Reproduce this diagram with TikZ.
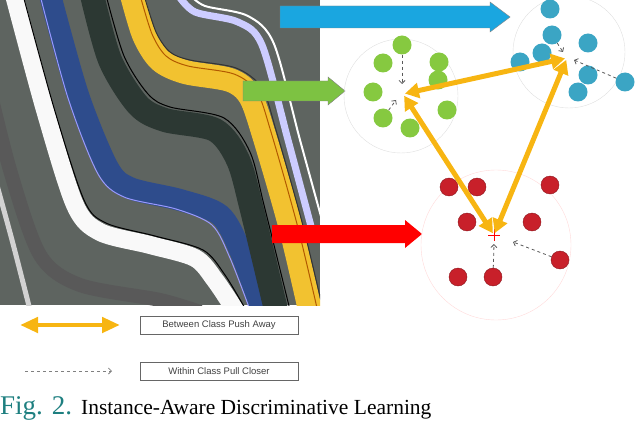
\documentclass[tikz,border=0pt]{standalone}
\usepackage{fontspec}
\setmainfont{Liberation Serif}
\setsansfont{Liberation Sans}
\usetikzlibrary{arrows.meta}
\definecolor{seis}{HTML}{5E6460}
\definecolor{ylw}{HTML}{F2C230}
\definecolor{gold}{HTML}{F7B512}
\definecolor{bluestripe}{HTML}{2E4C8C}
\definecolor{darkstripe}{HTML}{2C3833}
\definecolor{skyarrow}{HTML}{1AA6E0}
\definecolor{grnarrow}{HTML}{7DC242}
\definecolor{grndot}{HTML}{86C940}
\definecolor{bluedot}{HTML}{3BA5C4}
\definecolor{reddot}{HTML}{C8202A}
\definecolor{teal}{HTML}{1E7F80}
\tikzset{
 gdot/.style={circle,fill=grndot,minimum size=19pt,inner sep=0pt},
 bdot/.style={circle,fill=bluedot,minimum size=19pt,inner sep=0pt},
 rdot/.style={circle,fill=reddot,draw=reddot!70!black,minimum size=18pt,inner sep=0pt},
 push/.style={line width=5pt,gold,{Triangle[width=15pt,length=14pt]}-{Triangle[width=15pt,length=14pt]},shorten <=2pt,shorten >=2pt},
 pull/.style={dashed,gray!70!black,line width=0.8pt,-{Straight Barb[length=3pt]}},
 legbox/.style={draw=gray!80!black,line width=1pt,minimum width=158pt,minimum height=18pt,font=\sffamily\fontsize{9.5}{10}\selectfont,text=gray!50!black},
}
\begin{document}
\begin{tikzpicture}[x=1pt,y=-1pt]
\useasboundingbox (0,0) rectangle (636,422);
% seismic image
\begin{scope}
\clip (0,0) rectangle (320,305);
\fill[seis] (0,0) rectangle (320,305);
\draw[line width=14pt,black!65] plot[smooth] coordinates {(-15,70) (10,170) (40,255) (80,285) (160,300) (200,312)};
\draw[line width=5pt,gray!35] plot[smooth] coordinates {(-10,160) (12,240) (30,310)};
\draw[line width=18pt,white!95!gray] plot[smooth] coordinates {(14,-5) (45,110) (75,205) (100,232) (150,245) (195,258) (215,280) (235,310)};
\draw[line width=1pt,black] plot[smooth] coordinates {(23,-5) (54,108) (84,200) (106,223) (155,236) (203,250) (225,275) (246,310)};
\draw[line width=22pt,bluestripe] plot[smooth] coordinates {(50,-5) (78,95) (108,168) (130,188) (180,200) (220,215) (240,250) (262,310)};
\draw[line width=1pt,blue!40!white] plot[smooth] coordinates {(40,-5) (68,98) (98,174) (124,197) (176,209) (212,225) (230,258) (250,310)};
\draw[line width=24pt,darkstripe] plot[smooth] coordinates {(92,-5) (110,60) (138,105) (165,120) (215,130) (238,160) (252,210) (276,310)};
\draw[line width=1pt,black] plot[smooth] coordinates {(106,-5) (124,56) (148,94) (170,107) (224,118) (250,152) (264,205) (290,310)};
\draw[line width=24pt,ylw] plot[smooth] coordinates {(132,-5) (144,35) (160,60) (185,72) (230,80) (250,96) (264,135) (290,225) (310,310)};
\draw[line width=1pt,black!80] plot[smooth] coordinates {(144,-5) (156,32) (170,52) (190,60) (236,68) (262,88) (276,130) (302,222) (322,305)};
\draw[line width=1pt,orange!70!black] plot[smooth] coordinates {(140,-5) (152,34) (166,56) (188,66) (234,74) (257,92) (271,132) (297,224) (317,308)};
\draw[line width=7pt,blue!20!white] plot[smooth] coordinates {(178,-5) (195,12) (238,22) (262,45) (288,140) (312,230)};
\draw[line width=2pt,white] plot[smooth] coordinates {(190,-5) (205,6) (248,16) (274,44) (300,140) (322,220)};
\end{scope}
% block arrows
\filldraw[fill=skyarrow,draw=black!50] (280,6)--(490,6)--(490,2)--(510,17)--(490,32)--(490,28)--(280,28)--cycle;
\filldraw[fill=grnarrow,draw=black!50] (243,81)--(328,81)--(328,77)--(345,91)--(328,105)--(328,101)--(243,101)--cycle;
\fill[red] (272,225)--(405,225)--(405,220)--(422,234)--(405,248)--(405,243)--(272,243)--cycle;
% cluster rings
\draw[gray!25] (401,96) circle (57);
\draw[gray!25] (569,52) circle (56);
\draw[red!15] (496,245) circle (75);
% green
\node[gdot] (g1) at (402,45) {};
\node[gdot] (g2) at (383,63) {};
\node[gdot] (g3) at (439,62) {};
\node[gdot] (g4) at (438,80) {};
\node[gdot] (g5) at (373,92) {};
\node[gdot] (g6) at (447,110) {};
\node[gdot] (g7) at (383,118) {};
\node[gdot] (g8) at (410,128) {};
\coordinate (gc) at (403,94);
% blue
\node[bdot] (b1) at (550,9) {};
\node[bdot] (b2) at (552,35) {};
\node[bdot] (b3) at (588,43) {};
\node[bdot] (b4) at (542,53) {};
\node[bdot] (b5) at (520,62) {};
\node[bdot] (b6) at (588,75) {};
\node[bdot] (b7) at (578,92) {};
\node[bdot] (b8) at (625,82) {};
\coordinate (bc) at (567,58);
% red
\node[rdot] (r1) at (449,187) {};
\node[rdot] (r2) at (477,187) {};
\node[rdot] (r3) at (550,185) {};
\node[rdot] (r4) at (467,222) {};
\node[rdot] (r5) at (532,222) {};
\node[rdot] (r6) at (560,260) {};
\node[rdot] (r7) at (458,277) {};
\node[rdot] (r8) at (493,277) {};
\coordinate (rc) at (494,235);
\draw[red,line width=1pt] (488,235)--(500,235) (494,229)--(494,241);
% pulls
\draw[pull] (g1) -- (402,84);
\draw[pull] (g7) -- (396,100);
\draw[pull] (b2) -- (563,52);
\draw[pull] (b8) -- (574,60);
\draw[pull] (r8) -- (494,244);
\draw[pull] (r6) -- (513,242);
% pushes
\draw[push] (gc) -- (bc);
\draw[push] (gc) -- (rc);
\draw[push] (bc) -- (rc);
% legend
\coordinate (l1a) at (20,325); \coordinate (l1b) at (120,325);
\draw[line width=4.5pt,gold,{Triangle[width=15pt,length=18pt]}-{Triangle[width=15pt,length=18pt]}] (l1a) -- (l1b);
\node[legbox] (lb1) at (219,325) {Between Class Push Away};
\coordinate (l2a) at (25,371); \coordinate (l2b) at (112,371);
\draw[pull,gray] (l2a) -- (l2b);
\node[legbox] (lb2) at (219,371) {Within Class Pull Closer};
\node[anchor=base west,inner sep=0pt] (cap) at (0,414) {\fontsize{27}{30}\selectfont\textcolor{teal}{Fig. 2.} \fontsize{21.5}{24}\selectfont Instance-Aware Discriminative Learning};
\end{tikzpicture}
\end{document}
